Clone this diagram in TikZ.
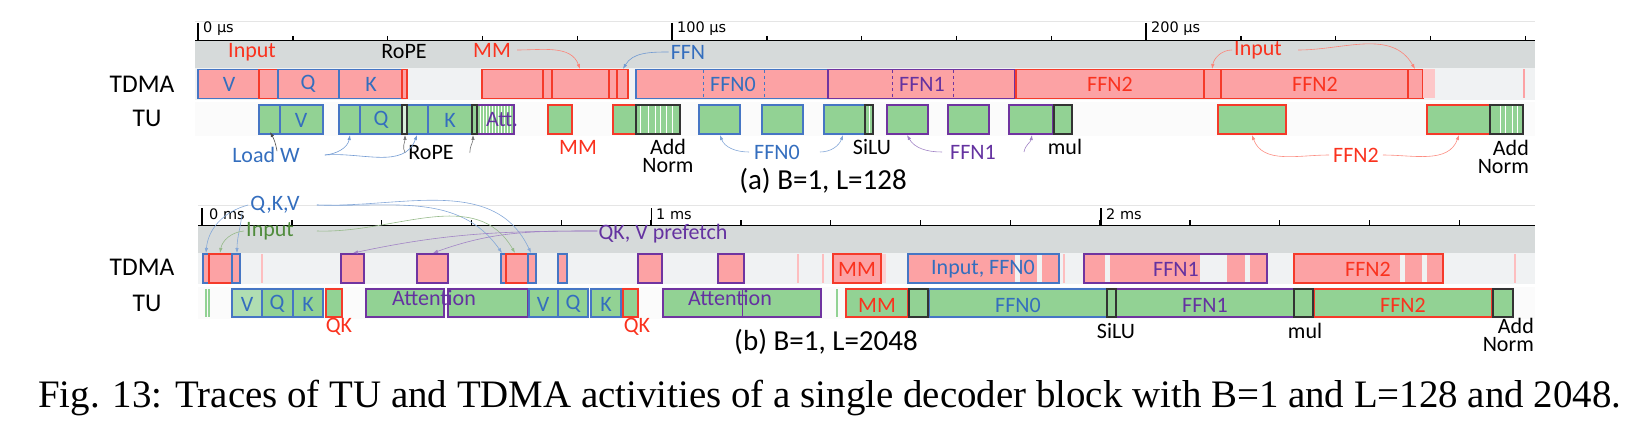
\documentclass[tikz,border=0pt]{standalone}
\usepackage{fontspec}
\setmainfont{Liberation Serif}
\newfontfamily\labfont{Carlito}
\newfontfamily\axfont{DejaVu Sans}
\usetikzlibrary{arrows.meta}
\definecolor{pinkf}{RGB}{252,162,164}
\definecolor{greenf}{RGB}{146,210,148}
\definecolor{paleg}{RGB}{176,222,178}
\definecolor{redb}{RGB}{245,58,42}
\definecolor{blueb}{RGB}{70,118,196}
\definecolor{purpb}{RGB}{112,52,160}
\definecolor{band}{RGB}{214,218,218}
\definecolor{rowbg}{RGB}{240,242,243}
\definecolor{labblue}{RGB}{52,110,190}
\definecolor{labred}{RGB}{250,50,30}
\definecolor{labpurp}{RGB}{100,50,160}
\definecolor{labgreen}{RGB}{80,140,60}
\tikzset{
  lab/.style={font=\labfont\fontsize{22}{18}\selectfont, inner sep=0pt},
  rowlab/.style={font=\labfont\fontsize{25.5}{28}\selectfont, inner sep=0pt},
  axlab/.style={font=\axfont\fontsize{14.5}{16}\selectfont, inner sep=0pt, anchor=west},
  tbox/.style={fill=pinkf, line width=1.2pt},
  ubox/.style={fill=greenf, line width=1.2pt},
  conn/.style={-{Latex[length=5pt,width=3.5pt]}, line width=0.6pt},
}
\begin{document}
\begin{tikzpicture}[x=1pt,y=-1pt]
  \useasboundingbox (0,0) rectangle (1650,425);
  % (a) B=1, L=128
  \draw[black!10, line width=1pt] (195,22) -- (1535,22);
  \fill[band] (195,41) rectangle (1535,68);
  \fill[rowbg] (195,68) rectangle (1535,100);
  \fill[black!1.5] (195,102) rectangle (1535,136);
  \draw[line width=1pt] (195,41) -- (1535,41);
  \foreach \i in {1,...,14} \draw[line width=1.4pt] ({198+94.8*\i},36) -- ++(0,5);
  \foreach \t in {0,1,2} \draw[line width=1.6pt] ({198+474*\t},23) -- ++(0,18);
  \node[axlab] (t0a) at (203,29) {0 µs};
  \node[axlab] (t1a) at (677,29) {100 µs};
  \node[axlab] (t2a) at (1151,29) {200 µs};
  \node[rowlab] (tdmaA) at (142,84) {TDMA};
  \node[rowlab] (tuA) at (147,118) {TU};
  \foreach \a/\b/\c in {198/259/blueb, 259/278/redb, 278/339/blueb, 339/402/blueb, 402/407/redb,
      482/543/redb, 543/552/redb, 552/609/redb, 609/617/redb, 617/628/redb, 636/828/blueb,
      828/1015/purpb, 1016/1204/redb, 1204/1221/redb, 1221/1408/redb, 1408/1423/redb}
    \draw[tbox, draw=\c] (\a,69.5) rectangle (\b,98.5);
  \fill[pinkf!60] (1423,69.5) rectangle (1435,98.5);
  \fill[pinkf] (1522.5,69.5) rectangle (1524.5,98.5);
  \foreach \x in {703,764} \draw[blueb, dashed, line width=1pt] (\x,70) -- (\x,98);
  \foreach \x in {892,953} \draw[purpb, dashed, line width=1pt] (\x,70) -- (\x,98);
  \foreach \a/\b/\c in {259/280/blueb, 280/323/blueb, 339/360/blueb, 360/402/blueb, 407/428/blueb,
      428/472/blueb, 548/572/redb, 613/636/redb, 699/740/blueb, 762/803/blueb, 824/865/blueb,
      887/928/purpb, 948/989/purpb, 1009/1053/purpb, 1218/1286/redb, 1427/1490/redb}
    \draw[ubox, draw=\c] (\a,105) rectangle (\b,134);
  \fill[greenf] (477,105) rectangle (514,134);
  \foreach \s in {480,483,...,512} \draw[white, line width=0.7pt] (\s,106) -- (\s,133);
  \draw[purpb, line width=1.2pt] (477,105) rectangle (514,134);
  \foreach \a/\b in {402/407, 472/477, 636/680, 865/873, 1054/1072, 1490/1523}
    \fill[greenf] (\a,105) rectangle (\b,134);
  \fill[greenf!35] (402,105) rectangle (407,134);
  \foreach \s in {640,648,655,660,666,672,869,1500,1505,1512,1517}
    \draw[white, line width=0.8pt] (\s,106) -- (\s,133);
  \foreach \a/\b in {402/407, 472/477, 636/680, 865/873, 1054/1072, 1490/1523}
    \draw[black!80, line width=1.2pt] (\a,105) rectangle (\b,134);
  % box labels
  \node[lab, labblue] (vA) at (229,84) {V};
  \node[lab, labblue] (qA) at (308,84) {Q};
  \node[lab, labblue] (kA) at (371,84) {K};
  \node[lab, labblue] (ffn0A) at (733,84) {FFN0};
  \node[lab, labpurp] (ffn1A) at (922,84) {FFN1};
  \node[lab, labred] (ffn2A) at (1110,84) {FFN2};
  \node[lab, labred] (ffn2B) at (1315,84) {FFN2};
  \node[lab, labblue] (vuA) at (301,120) {V};
  \node[lab, labblue] (quA) at (381,120) {Q};
  \node[lab, labblue] (kuA) at (450,120) {K};
  \node[lab, labpurp] (attA) at (502,120) {Att.};
  % upper labels
  \node[lab, labred] (inA) at (252,52) {Input};
  \node[lab] (ropeA) at (404,52) {RoPE};
  \node[lab, labred] (mmA) at (492,50) {MM};
  \node[lab, labblue] (ffnA) at (688,52) {FFN};
  \node[lab, labred] (inB) at (1258,50) {Input};
  \coordinate (mmT) at (580,69);
  \coordinate (ffnT) at (623,69);
  \coordinate (inT1) at (1212,69);
  \coordinate (inT2) at (1415,69);
  \draw[conn, labred!60] ([xshift=6pt]mmA.east) to[out=0,in=110] (mmT);
  \draw[conn, labblue!70] ([xshift=-2pt]ffnA.west) to[out=180,in=60] (ffnT);
  \draw[conn, labred!60] ([xshift=-2pt]inB.west) to[out=180,in=80] (inT1);
  \draw[conn, labred!60] ([xshift=16pt]inB.east) to[out=0,in=120] (inT2);
  % lower labels
  \node[lab, labblue] (lwA) at (266,155) {Load W};
  \node[lab] (ropeB) at (431,153) {RoPE};
  \node[lab, labred] (mmB) at (578,147) {MM};
  \node[lab, align=center] (anA) at (668,156) {Add\\Norm};
  \node[lab, labblue] (f0B) at (777,152) {FFN0};
  \node[lab] (siluA) at (872,147) {SiLU};
  \node[lab, labpurp] (f1B) at (973,152) {FFN1};
  \node[lab] (mulA) at (1065,147) {mul};
  \node[lab, labred] (f2C) at (1356,155) {FFN2};
  \node[lab, align=right, anchor=east] (anB) at (1529,157) {Add\\Norm};
  \coordinate (lw1) at (270,132);
  \coordinate (lw2) at (350,135);
  \coordinate (lw3) at (417,135);
  \coordinate (rp1) at (405,135);
  \coordinate (rp2) at (473,135);
  \coordinate (f0a) at (720,135);
  \coordinate (f0b) at (843,135);
  \coordinate (f1a) at (907,135);
  \coordinate (f1b) at (1032,135);
  \coordinate (f2a) at (1252,135);
  \coordinate (f2b) at (1459,135);
  \draw[conn, black!70] ([xshift=11pt,yshift=-4pt]lwA.north) to[out=100,in=-60] (lw1);
  \draw[conn, labblue!70] ([xshift=25pt]lwA.east) to[out=5,in=-100] (lw2);
  \draw[conn, labblue!70] ([xshift=25pt]lwA.east) to[out=5,in=-110] (lw3);
  \draw[conn, black!55] ([xshift=-3pt]ropeB.west) to[out=120,in=-90] (rp1);
  \draw[conn, black!55] ([xshift=16pt]ropeB.east) to[out=90,in=-90] (rp2);
  \draw[conn, labblue!60] ([xshift=-5pt]f0B.west) to[out=180,in=-70] (f0a);
  \draw[conn, labblue!60] ([xshift=20pt]f0B.east) to[out=0,in=-110] (f0b);
  \draw[conn, labpurp!60] ([xshift=-8pt]f1B.west) to[out=180,in=-60] (f1a);
  \draw[conn, labpurp!60] ([xshift=28pt]f1B.east) to[out=80,in=-100] (f1b);
  \draw[conn, labred!55] ([xshift=-4pt]f2C.west) to[out=180,in=-70] (f2a);
  \draw[conn, labred!55] ([xshift=4pt]f2C.east) to[out=0,in=-110] (f2b);
  \node[lab, font=\labfont\fontsize{29}{32}\selectfont] (subA) at (823,181) {(a) B=1, L=128};
  % (b) B=1, L=2048
  \draw[black!10, line width=1pt] (198,205) -- (1535,205);
  \fill[band] (198,225) rectangle (1535,253);
  \fill[rowbg] (198,253) rectangle (1535,284);
  \fill[black!1.5] (198,287) rectangle (1535,319);
  \draw[line width=1pt] (198,225) -- (1535,225);
  \foreach \i in {1,...,14} \draw[line width=1.4pt] ({202+89.8*\i},220) -- ++(0,5);
  \foreach \t in {0,1,2} \draw[line width=1.6pt] ({202+449.5*\t},208) -- ++(0,17);
  \node[axlab] (t0b) at (209,214) {0 ms};
  \node[axlab] (t1b) at (656,214) {1 ms};
  \node[axlab] (t2b) at (1106,214) {2 ms};
  \node[rowlab] (tdmaB) at (142,267) {TDMA};
  \node[rowlab] (tuB) at (147,303) {TU};
  \foreach \a/\b/\c in {203/209/blueb, 209/232/redb, 232/240/blueb, 341/364/purpb, 417/448/purpb,
      501/506/blueb, 506/528/redb, 528/536/blueb, 558/567/blueb, 638/662/purpb, 718/744/purpb,
      833/881/redb, 908/1059/blueb, 1084/1267/purpb, 1294/1443/redb}
    \draw[tbox, draw=\c] (\a,254) rectangle (\b,283);
  \foreach \a/\b in {1015/1020, 1037/1042, 1105/1110, 1200/1227, 1245/1250, 1400/1405, 1422/1427}
    \fill[rowbg] (\a,255) rectangle (\b,282);
  \foreach \x in {262,798,823,1064,1515} \fill[pinkf!70] (\x-1,254) rectangle (\x+1,283);
  \fill[pinkf!50] (881.6,254) rectangle (886,283);
  \foreach \x in {206,209,837} \draw[greenf, line width=1.5pt] (\x,289) -- (\x,317);
  \draw[ubox, draw=blueb, fill=paleg] (232,289) rectangle (262,317);
  \foreach \a/\b/\c in {262/293/blueb, 293/323/blueb, 326/342/redb, 366/444/purpb, 448/528/purpb,
      529/558/blueb, 558/588/blueb, 591/621/blueb, 623/638/redb, 663/821/purpb, 846/908/redb,
      929/1107/blueb, 1116/1294/purpb, 1314/1492/redb}
    \draw[ubox, draw=\c] (\a,289) rectangle (\b,317);
  \draw[purpb, line width=1pt] (742,290) -- (742,316);
  \foreach \a/\b in {909/928, 1107/1116, 1294/1313, 1493/1513}
    \draw[ubox, draw=black!80] (\a,289) rectangle (\b,317);
  % box labels
  \node[lab, labred] (mmC) at (857,269) {MM};
  \node[lab, labblue] (inF0) at (983,269) {Input, FFN0};
  \node[lab, labpurp] (ffn1C) at (1176,269) {FFN1};
  \node[lab, labred] (ffn2C) at (1368,269) {FFN2};
  \foreach \x/\t [count=\n] in {247/V, 277/Q, 308/K, 543/V, 573/Q, 606/K}
    \node[lab, labblue] (qkvu\n) at (\x,304) {\t};
  \node[lab, labpurp] (attB) at (434,298) {Attention};
  \node[lab, labpurp] (attC) at (730,298) {Attention};
  \node[lab, labred] (mmD) at (877,305) {MM};
  \node[lab, labblue] (ffn0D) at (1018,305) {FFN0};
  \node[lab, labpurp] (ffn1D) at (1205,305) {FFN1};
  \node[lab, labred] (ffn2D) at (1403,305) {FFN2};
  \node[lab, labred] (qkA) at (339,327) {QK};
  \node[lab, labred] (qkB) at (637,327) {QK};
  \node[lab] (siluB) at (1116,331) {SiLU};
  \node[lab] (mulB) at (1305,331) {mul};
  \node[lab, align=right, anchor=east] (anC) at (1534,335) {Add\\Norm};
  % upper labels
  \node[lab, labblue] (qkvB) at (275,205) {Q,K,V};
  \node[lab, labgreen] (inC) at (270,231) {Input};
  \node[lab, labpurp] (pfB) at (663,234) {QK, V prefetch};
  \coordinate (q1) at (206,253);
  \coordinate (q2) at (237,253);
  \coordinate (q3) at (502,253);
  \coordinate (q4) at (531,253);
  \coordinate (i1) at (220,253);
  \coordinate (i2) at (515,253);
  \coordinate (p1) at (353,253);
  \coordinate (p2) at (433,253);
  \draw[conn, labblue!60] ([xshift=-2pt]qkvB.west) to[out=195,in=85] (q1);
  \draw[conn, labblue!60] ([xshift=-8pt,yshift=2pt]qkvB.south west) to[out=-95,in=90] (q2);
  \draw[conn, labblue!60] ([xshift=17pt]qkvB.east) to[out=-2,in=125] (q3);
  \draw[conn, labblue!60] ([xshift=17pt]qkvB.east) to[out=-2,in=115] (q4);
  \draw[conn, labgreen!60] ([xshift=-2pt]inC.west) to[out=185,in=80] (i1);
  \draw[conn, labgreen!60] ([xshift=23pt]inC.east) to[out=-2,in=120] (i2);
  \draw[conn, labpurp!60] ([xshift=-1pt,yshift=3pt]pfB.west) to[out=180,in=12] (p1);
  \draw[conn, labpurp!60] ([xshift=-1pt,yshift=3pt]pfB.west) to[out=180,in=20] (p2);
  \node[lab, font=\labfont\fontsize{29}{32}\selectfont] (subB) at (826,342) {(b) B=1, L=2048};
  \node[anchor=base west, inner sep=0pt, font=\fontsize{38.9}{46}\selectfont] (cap) at (38,407)
    {Fig. 13: Traces of TU and TDMA activities of a single decoder block with B=1 and L=128 and 2048.};
\end{tikzpicture}
\end{document}
